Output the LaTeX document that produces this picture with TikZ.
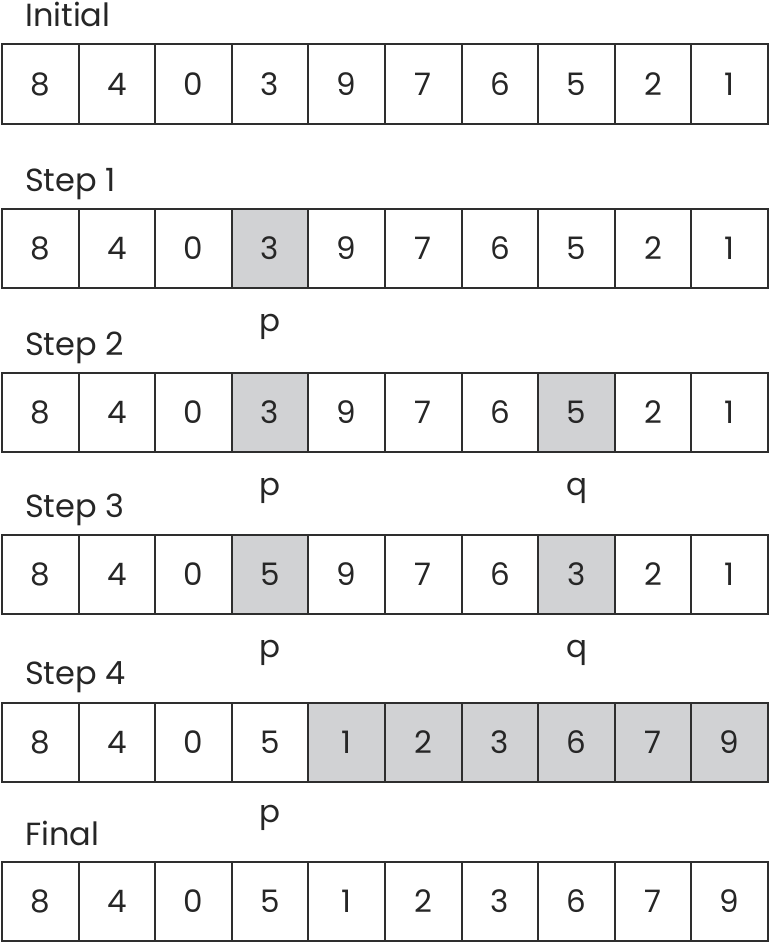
\documentclass[tikz,border=0pt]{standalone}
\usepackage{fontspec}
\setmainfont{Poppins}
\usetikzlibrary{positioning}
\definecolor{cellgray}{HTML}{D1D2D4}
\definecolor{linegray}{HTML}{2E2E2E}
\tikzset{
  cell/.style={draw=linegray,line width=2pt,minimum width=76.6pt,minimum height=79pt,inner sep=0pt,
    text=black!85,font=\fontsize{31}{33}\selectfont},
  hilite/.style={cell,fill=cellgray},
  rowlabel/.style={anchor=base west,inner sep=0pt,text=black!85,font=\fontsize{32}{34}\selectfont},
  ptr/.style={anchor=base,inner sep=0pt,text=black!85,font=\fontsize{31}{33}\selectfont}
}

\begin{document}
\begin{tikzpicture}[x=1pt,y=-1pt]
\useasboundingbox (0,0) rectangle (770,942);

%初期
\node[rowlabel] (lab0) at (25,27) {Initial};
\foreach \v/\s [count=\i] in {8/cell,4/cell,0/cell,3/cell,9/cell,7/cell,6/cell,5/cell,2/cell,1/cell}
  \node[\s] (a\i) at ({76.6*\i-36.3},84) {\v};

%手順1
\node[rowlabel] (lab1) at (25,191) {Step 1};
\foreach \v/\s [count=\i] in {8/cell,4/cell,0/cell,3/hilite,9/cell,7/cell,6/cell,5/cell,2/cell,1/cell}
  \node[\s] (b\i) at ({76.6*\i-36.3},248.5) {\v};
\node[ptr] (bp) at ([yshift=-42pt]b4.south) {p}; %p

%手順2
\node[rowlabel] (lab2) at (25,355) {Step 2};
\foreach \v/\s [count=\i] in {8/cell,4/cell,0/cell,3/hilite,9/cell,7/cell,6/cell,5/hilite,2/cell,1/cell}
  \node[\s] (c\i) at ({76.6*\i-36.3},412.5) {\v};
\node[ptr] (cp) at ([yshift=-42pt]c4.south) {p}; %p
\node[ptr] (cq) at ([yshift=-42pt]c8.south) {q}; %q

%手順3
\node[rowlabel] (lab3) at (25,517) {Step 3};
\foreach \v/\s [count=\i] in {8/cell,4/cell,0/cell,5/hilite,9/cell,7/cell,6/cell,3/hilite,2/cell,1/cell}
  \node[\s] (d\i) at ({76.6*\i-36.3},574.5) {\v};
\node[ptr] (dp) at ([yshift=-42pt]d4.south) {p}; %p
\node[ptr] (dq) at ([yshift=-42pt]d8.south) {q}; %q

%手順4
\node[rowlabel] (lab4) at (25,684) {Step 4};
\foreach \v/\s [count=\i] in {8/cell,4/cell,0/cell,5/cell,1/hilite,2/hilite,3/hilite,6/hilite,7/hilite,9/hilite}
  \node[\s] (e\i) at ({76.6*\i-36.3},742) {\v};
\node[ptr] (ep) at ([yshift=-40pt]e4.south) {p}; %p

%最終
\node[rowlabel] (lab5) at (25,845) {Final};
\foreach \v/\s [count=\i] in {8/cell,4/cell,0/cell,5/cell,1/cell,2/cell,3/cell,6/cell,7/cell,9/cell}
  \node[\s] (f\i) at ({76.6*\i-36.3},901.5) {\v};
\end{tikzpicture}
\end{document}
